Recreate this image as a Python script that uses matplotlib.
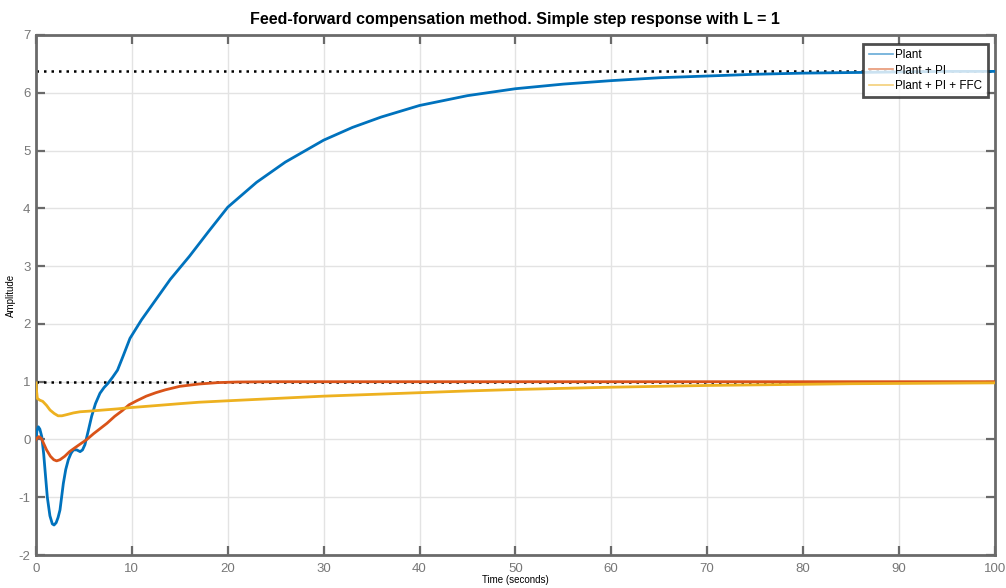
import numpy as np
import matplotlib.pyplot as plt

plt.rcParams['font.family'] = ['Liberation Sans', 'DejaVu Sans']
plt.rcParams['axes.unicode_minus'] = False

# values
t_plant = [0, 0.1, 0.24, 0.4, 0.6, 0.8, 0.94, 1.18, 1.45, 1.7, 1.88, 2.1, 2.3, 2.5, 2.85, 3.1, 3.37, 3.65, 3.9, 4.25, 4.6, 4.85, 5.1, 5.45, 5.8, 6.2, 6.67, 7.1, 7.5, 8.0, 8.5, 9.1, 9.8, 11, 12.5, 14, 16, 18, 20, 23, 26, 30, 33, 36, 40, 45, 50, 55, 60, 65, 70, 75, 80, 85, 90, 95, 100]
y_plant = [0, 0.15, 0.22, 0.18, 0.05, -0.25, -0.53, -1.0, -1.32, -1.46, -1.48, -1.44, -1.35, -1.22, -0.76, -0.52, -0.35, -0.24, -0.18, -0.18, -0.21, -0.18, -0.09, 0.15, 0.4, 0.62, 0.8, 0.9, 0.97, 1.08, 1.2, 1.45, 1.75, 2.07, 2.42, 2.77, 3.17, 3.6, 4.02, 4.45, 4.8, 5.18, 5.4, 5.58, 5.78, 5.95, 6.07, 6.15, 6.21, 6.26, 6.29, 6.32, 6.34, 6.35, 6.36, 6.37, 6.37]

t_pi = [0, 0.15, 0.3, 0.55, 0.8, 1.1, 1.5, 1.85, 2.15, 2.5, 3.0, 3.5, 4.0, 4.6, 5.3, 6.0, 6.7, 7.4, 8.2, 9.0, 9.7, 10.5, 11.5, 12.5, 13.5, 15, 17, 19, 21, 25, 30, 40, 50, 60, 70, 80, 90, 100]
y_pi = [0, 0.03, 0.05, 0.02, -0.07, -0.18, -0.29, -0.35, -0.37, -0.35, -0.29, -0.21, -0.15, -0.08, 0.0, 0.1, 0.19, 0.28, 0.4, 0.5, 0.6, 0.67, 0.75, 0.81, 0.86, 0.92, 0.96, 0.985, 0.995, 1.0, 1.0, 1.0, 1.0, 1.0, 1.0, 1.0, 1.0, 1.0]

t_ffc = [0, 0.05, 0.14, 0.4, 0.7, 1.1, 1.46, 1.9, 2.3, 2.7, 3.2, 3.9, 4.6, 5.5, 7.0, 8.5, 9.7, 12, 15, 17, 20, 25, 30, 35, 40, 45, 50, 55, 60, 65, 70, 75, 80, 85, 90, 95, 100]
y_ffc = [0.98, 0.85, 0.71, 0.68, 0.66, 0.59, 0.51, 0.45, 0.41, 0.41, 0.43, 0.46, 0.48, 0.49, 0.51, 0.53, 0.55, 0.58, 0.62, 0.645, 0.67, 0.71, 0.75, 0.78, 0.81, 0.84, 0.865, 0.885, 0.905, 0.92, 0.935, 0.945, 0.955, 0.965, 0.97, 0.975, 0.98]

steady_plant = 6.37
steady_ref = 1.0

xticks = np.arange(0, 101, 10)
yticks = np.arange(-2, 8, 1)

fig = plt.figure(figsize=(10.06, 5.88), dpi=100)
ax = fig.add_axes([0.0358, 0.056, 0.953, 0.8845])

ax.axhline(steady_plant, color='k', ls=(0, (1, 2)), lw=1.8, zorder=2)
ax.axhline(steady_ref, color='k', ls=(0, (1, 2)), lw=1.8, zorder=2)

ax.plot(t_plant, y_plant, color='#0072BD', lw=2, label='Plant', zorder=3)
ax.plot(t_pi, y_pi, color='#D95319', lw=2, label='Plant + PI', zorder=3)
ax.plot(t_ffc, y_ffc, color='#EDB120', lw=2, label='Plant + PI + FFC', zorder=3)

ax.set_xlim(0, 100)
ax.set_ylim(-2, 7)
ax.set_xticks(xticks)
ax.set_yticks(yticks)
ax.grid(True, color='#e3e3e3', lw=1)
ax.set_axisbelow(True)
for s in ax.spines.values():
    s.set_color('#6a6a6a')
    s.set_linewidth(2)
ax.tick_params(direction='in', length=6.5, width=1.6, color='#6a6a6a', labelcolor='#777777', labelsize=9.5,
               top=True, right=True)
ax.tick_params(axis='x', pad=6)
ax.tick_params(axis='y', pad=4)

ax.set_title('Feed-forward compensation method. Simple step response with L = 1', fontsize=11.5, fontweight='bold', pad=8)
ax.set_xlabel('Time (seconds)', fontsize=7, labelpad=0)
ax.set_ylabel('Amplitude', fontsize=7, labelpad=2)

leg = ax.legend(loc='upper right', bbox_to_anchor=(0.9927, 0.983), fontsize=8.4, frameon=True, fancybox=False,
                borderpad=0.45, handlelength=2.1, handletextpad=0.2, labelspacing=0.3, borderaxespad=0)
leg.get_frame().set_edgecolor('#222222')
leg.get_frame().set_linewidth(2)
for ln in leg.get_lines():
    ln.set_linewidth(1.2)
    ln.set_alpha(0.6)

plt.savefig('out.png', dpi=100)
plt.close()
